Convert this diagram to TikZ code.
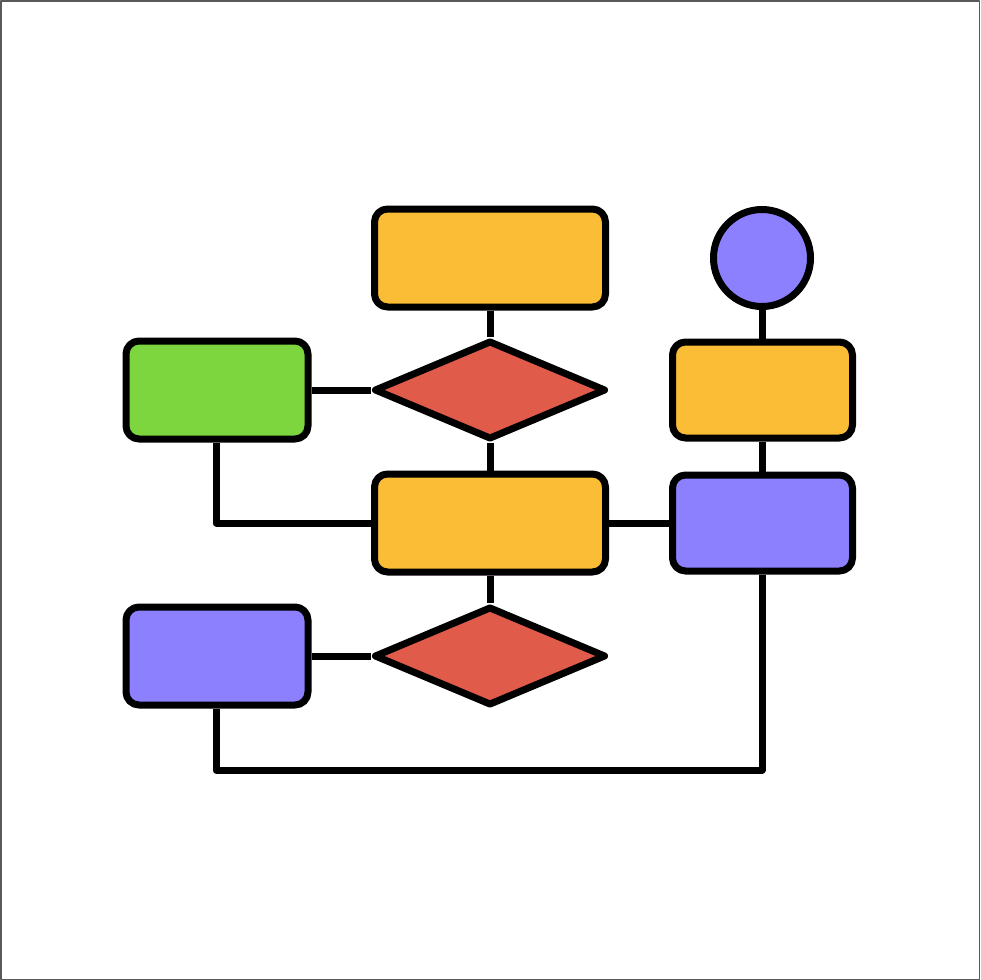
\documentclass[tikz,border=0pt]{standalone}
\usetikzlibrary{shapes.geometric}
\definecolor{cOrange}{HTML}{FBBC36}
\definecolor{cRed}{HTML}{E05B4A}
\definecolor{cGreen}{HTML}{7ED63F}
\definecolor{cPurple}{HTML}{8C80FF}
\begin{document}
\begin{tikzpicture}[x=1pt,y=-1pt,
  line join=round,
  box/.style={draw=black,line width=7pt,rectangle,rounded corners=13pt,inner sep=0pt},
  bigbox/.style={box,minimum width=231pt,minimum height=98pt},
  sidebox/.style={box,minimum width=182pt,minimum height=98pt},
  dec/.style={draw=black,line width=7pt,diamond,fill=cRed,inner sep=0pt,minimum width=232pt,minimum height=99pt},
  link/.style={draw=black,line width=7pt}]
\useasboundingbox (0,0) rectangle (980,980);
\draw[gray!70!black,line width=1.5pt] (0.75,0.75) rectangle (979.25,979.25);
\coordinate (c1) at (216,523);
\coordinate (c2) at (216,770);
\coordinate (c3) at (762,770);
\node[bigbox,fill=cOrange] (top) at (490,258) {};
\node[dec] (d1) at (490,390) {};
\node[sidebox,fill=cGreen] (green) at (217,390) {};
\node[bigbox,fill=cOrange] (mid) at (490,523) {};
\node[dec] (d2) at (490,656) {};
\node[sidebox,fill=cPurple] (blue) at (217,656) {};
\node[circle,draw=black,line width=7pt,fill=cPurple,minimum size=97pt,inner sep=0pt] (circ) at (762,258) {};
\node[box,fill=cOrange,minimum width=180pt,minimum height=96pt] (rorange) at (762.5,390) {};
\node[box,fill=cPurple,minimum width=180pt,minimum height=96pt] (rpurple) at (762.5,523) {};
\draw[link] (top.south) -- (d1.north);
\draw[link] (d1.south) -- (mid.north);
\draw[link] (green.east) -- (d1.west);
\draw[link] (green.south -| c1) -- (c1) -- (mid.west);
\draw[link] (mid.east) -- (rpurple.west);
\draw[link] (mid.south) -- (d2.north);
\draw[link] (blue.east) -- (d2.west);
\draw[link] (blue.south -| c2) -- (c2) -- (c3) -- (rpurple.south -| c3);
\draw[link] (circ.south) -- (rorange.north -| circ.south);
\draw[link] (rorange.south -| circ.south) -- (rpurple.north -| circ.south);
\end{tikzpicture}
\end{document}
